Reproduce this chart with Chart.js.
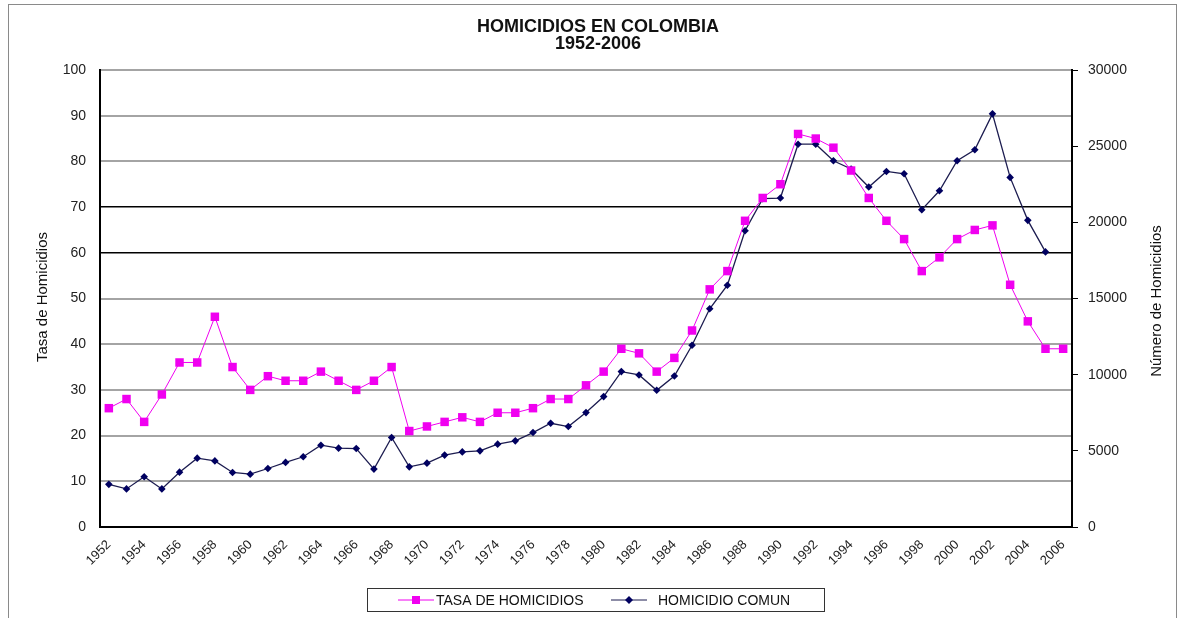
<!DOCTYPE html>
<html lang="es">
<head>
<meta charset="UTF-8" />
<title>Homicidios en Colombia 1952-2006</title>
<style>
  * { margin: 0; padding: 0; box-sizing: border-box; }
  body { background: #fff; width: 1183px; height: 618px; overflow: hidden; }
  .wrap { position: relative; width: 1183px; height: 618px; }
</style>
</head>
<body>
<div class="wrap"><canvas id="chart" width="1183" height="618"></canvas></div>

<script src="https://cdn.jsdelivr.net/npm/chart.js"></script>
<script>
const years = [
  "1952","1953","1954","1955","1956","1957","1958","1959","1960","1961",
  "1962","1963","1964","1965","1966","1967","1968","1969","1970","1971",
  "1972","1973","1974","1975","1976","1977","1978","1979","1980","1981",
  "1982","1983","1984","1985","1986","1987","1988","1989","1990","1991",
  "1992","1993","1994","1995","1996","1997","1998","1999","2000","2001",
  "2002","2003","2004","2005","2006"
];

// tasa por 100.000 habitantes (eje izquierdo)
const tasa = [
  26, 28, 23, 29, 36, 36, 46, 35, 30, 33,
  32, 32, 34, 32, 30, 32, 35, 21, 22, 23,
  24, 23, 25, 25, 26, 28, 28, 31, 34, 39,
  38, 34, 37, 43, 52, 56, 67, 72, 75, 86,
  85, 83, 78, 72, 67, 63, 56, 59, 63, 65,
  66, 53, 45, 39, 39
];

// numero de homicidios (eje derecho)
const comun = [
  2800, 2500, 3300, 2500, 3600, 4520, 4340, 3580, 3470, 3840,
  4240, 4610, 5370, 5175, 5150, 3800, 5875, 3950, 4190, 4720,
  4930, 5000, 5440, 5655, 6200, 6810, 6595, 7510, 8560, 10200,
  9980, 8975, 9910, 11930, 14325, 15870, 19450, 21550, 21595, 25130,
  25130, 24040, 23500, 22315, 23340, 23190, 20830, 22070, 24040, 24760,
  27120, 22950, 20130, 18060, null
];

const FONT = '"Liberation Sans", Arial, sans-serif';
const PINK = "#f000f0";
const NAVY = "#000060";

// marco, titulos y leyenda
const extras = {
  id: "extras",
  beforeDraw(chart) {
    const ctx = chart.ctx;
    ctx.save();
    ctx.strokeStyle = "#8a8a8a";
    ctx.lineWidth = 1;
    ctx.strokeRect(8.5, 4.5, 1168, 700);
    ctx.restore();
  },
  afterDraw(chart) {
    const ctx = chart.ctx;
    ctx.save();
    ctx.fillStyle = "#111";
    ctx.textAlign = "center";
    ctx.textBaseline = "middle";
    ctx.font = "bold 18px " + FONT;
    ctx.fillText("HOMICIDIOS EN COLOMBIA", 598, 27);
    ctx.fillText("1952-2006", 598, 44);

    ctx.font = "15px " + FONT;
    ctx.save();
    ctx.translate(43, 297);
    ctx.rotate(-Math.PI / 2);
    ctx.fillText("Tasa de Homicidios", 0, 0);
    ctx.restore();
    ctx.save();
    ctx.translate(1157, 301);
    ctx.rotate(-Math.PI / 2);
    ctx.fillText("Número de Homicidios", 0, 0);
    ctx.restore();

    // leyenda
    ctx.strokeStyle = "#333";
    ctx.lineWidth = 1;
    ctx.strokeRect(367.5, 588.5, 457, 23);
    const ly = 600;
    ctx.strokeStyle = PINK;
    ctx.beginPath(); ctx.moveTo(398, ly); ctx.lineTo(434, ly); ctx.stroke();
    ctx.fillStyle = PINK;
    ctx.fillRect(412, ly - 4, 8, 8);
    ctx.strokeStyle = "#1c1c50";
    ctx.beginPath(); ctx.moveTo(611, ly); ctx.lineTo(647, ly); ctx.stroke();
    ctx.fillStyle = NAVY;
    ctx.beginPath();
    ctx.moveTo(629, ly - 4); ctx.lineTo(633, ly); ctx.lineTo(629, ly + 4); ctx.lineTo(625, ly);
    ctx.closePath(); ctx.fill();
    ctx.fillStyle = "#111";
    ctx.textAlign = "left";
    ctx.font = "14px " + FONT;
    ctx.fillText("TASA DE HOMICIDIOS", 436, ly + 1);
    ctx.fillText("HOMICIDIO COMUN", 658, ly + 1);
    ctx.restore();
  }
};

const ctx = document.getElementById("chart").getContext("2d");

new Chart(ctx, {
  type: "line",
  data: {
    labels: years,
    datasets: [
      {
        label: "TASA DE HOMICIDIOS",
        data: tasa,
        yAxisID: "y",
        borderColor: PINK,
        borderWidth: 1,
        pointStyle: "rect",
        pointRadius: 6,
        pointBackgroundColor: PINK,
        pointBorderColor: PINK,
        pointBorderWidth: 0,
        tension: 0
      },
      {
        label: "HOMICIDIO COMUN",
        data: comun,
        yAxisID: "y1",
        borderColor: "#1c1c50",
        borderWidth: 1.3,
        pointStyle: "rectRot",
        pointRadius: 3.8,
        pointBackgroundColor: NAVY,
        pointBorderColor: NAVY,
        pointBorderWidth: 0,
        tension: 0
      }
    ]
  },
  options: {
    responsive: false,
    animation: false,
    devicePixelRatio: 1,
    layout: { padding: { top: 70, left: 0, right: 0, bottom: 0 } },
    plugins: {
      legend: { display: false },
      title: { display: false },
      tooltip: { enabled: false }
    },
    scales: {
      x: {
        offset: true,
        afterFit: (s) => { s.height = 91; },
        grid: { drawOnChartArea: false, drawTicks: false },
        border: { color: "#000", width: 2 },
        ticks: {
          autoSkip: false,
          maxRotation: 45,
          minRotation: 45,
          padding: 10,
          color: "#222",
          font: { family: FONT, size: 13 },
          callback: (v, i) => (i % 2 === 0 ? years[i] : "")
        }
      },
      y: {
        position: "left",
        min: 0,
        max: 100,
        afterFit: (s) => { s.width = 100; },
        grid: {
          drawTicks: false,
          color: (c) => (c.tick && (c.tick.value === 60 || c.tick.value === 70) ? "#000" : "#a4a4a4"),
          lineWidth: (c) => (c.tick && (c.tick.value === 60 || c.tick.value === 70) ? 1.5 : 2)
        },
        border: { color: "#000", width: 2 },
        ticks: {
          stepSize: 10,
          padding: 14,
          color: "#222",
          font: { family: FONT, size: 14 }
        }
      },
      y1: {
        position: "right",
        min: 0,
        max: 30000,
        afterFit: (s) => { s.width = 111; },
        grid: { drawOnChartArea: false, color: "#000", tickLength: 6, lineWidth: 1 },
        border: { color: "#000", width: 2 },
        ticks: {
          stepSize: 5000,
          padding: 10,
          color: "#222",
          font: { family: FONT, size: 14 },
          callback: (v) => String(v)
        }
      }
    }
  },
  plugins: [extras]
});
</script>
</body>
</html>
